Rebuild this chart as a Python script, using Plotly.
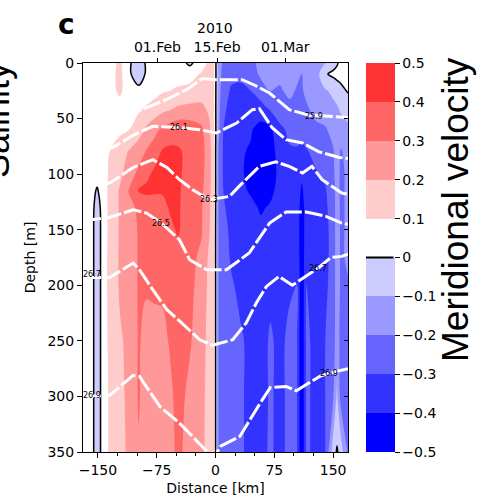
import plotly.graph_objects as go

# ---------------- data ----------------
distance_km = [-169, -158, -151, -144, -135, -122, -110, -98, -88, -78, -68, -58, -48, -33,
               -18, -8, -2, 4, 10, 20, 32, 45, 58, 70, 82, 95, 104, 110, 116, 128, 140,
               150, 155, 160, 169]
depth_m = [0, 10, 25, 40, 60, 80, 100, 115, 130, 150, 175, 200, 250, 300, 350]

v_d0 = [0.02, 0.02, 0.02, 0.03, 0.06, 0.12, 0.01, -0.04, 0.01, 0.05, 0.06, 0.06, 0.05, -0.02, 0.05, 0.12, 0.11, -0.15, -0.22, -0.25, -0.25, -0.22, -0.18, -0.15, -0.18, -0.15, -0.18, -0.20, -0.18, -0.15, -0.10, -0.04, -0.01, 0.03, 0.05]
v_d10 = [0.02, 0.02, 0.02, 0.03, 0.06, 0.13, 0.01, -0.04, 0.01, 0.06, 0.07, 0.07, 0.07, 0.06, 0.11, 0.14, 0.11, -0.15, -0.24, -0.28, -0.28, -0.25, -0.18, -0.16, -0.18, -0.16, -0.18, -0.20, -0.18, -0.15, -0.01, 0.02, 0.03, 0.04, 0.04]
v_d25 = [0.02, 0.02, 0.02, 0.03, 0.06, 0.12, 0.04, 0.02, 0.04, 0.07, 0.09, 0.10, 0.11, 0.13, 0.15, 0.15, 0.11, -0.16, -0.26, -0.31, -0.32, -0.30, -0.25, -0.20, -0.21, -0.18, -0.21, -0.21, -0.18, -0.15, -0.11, -0.08, -0.05, -0.03, 0.01]
v_d40 = [0.02, 0.02, 0.02, 0.03, 0.05, 0.06, 0.06, 0.08, 0.11, 0.13, 0.16, 0.18, 0.21, 0.22, 0.22, 0.18, 0.11, -0.17, -0.28, -0.33, -0.35, -0.35, -0.33, -0.28, -0.25, -0.22, -0.22, -0.22, -0.21, -0.17, -0.15, -0.12, -0.11, -0.08, -0.06]
v_d60 = [0.02, 0.02, 0.02, 0.03, 0.05, 0.08, 0.10, 0.16, 0.22, 0.27, 0.32, 0.35, 0.37, 0.36, 0.32, 0.22, 0.12, -0.18, -0.30, -0.36, -0.38, -0.39, -0.44, -0.42, -0.32, -0.28, -0.27, -0.27, -0.25, -0.22, -0.21, -0.17, -0.14, -0.15, -0.12]
v_d80 = [0.02, 0.02, 0.02, 0.04, 0.10, 0.15, 0.21, 0.25, 0.31, 0.35, 0.41, 0.42, 0.41, 0.38, 0.34, 0.24, 0.12, -0.21, -0.31, -0.37, -0.39, -0.41, -0.47, -0.45, -0.35, -0.31, -0.31, -0.32, -0.31, -0.27, -0.25, -0.21, -0.15, -0.21, -0.16]
v_d100 = [0.02, 0.03, 0.03, 0.04, 0.12, 0.18, 0.25, 0.33, 0.38, 0.42, 0.42, 0.41, 0.41, 0.38, 0.33, 0.24, 0.12, -0.21, -0.31, -0.36, -0.39, -0.42, -0.47, -0.45, -0.37, -0.34, -0.33, -0.38, -0.33, -0.31, -0.28, -0.22, -0.16, -0.22, -0.18]
v_d115 = [0.02, 0.03, -0.01, 0.04, 0.13, 0.21, 0.31, 0.41, 0.42, 0.41, 0.41, 0.42, 0.41, 0.37, 0.32, 0.23, 0.12, -0.21, -0.30, -0.35, -0.38, -0.41, -0.45, -0.42, -0.37, -0.35, -0.34, -0.42, -0.34, -0.32, -0.31, -0.24, -0.16, -0.22, -0.18]
v_d130 = [0.02, 0.03, -0.04, 0.03, 0.13, 0.21, 0.27, 0.32, 0.34, 0.36, 0.37, 0.41, 0.41, 0.36, 0.31, 0.22, 0.12, -0.21, -0.29, -0.33, -0.37, -0.38, -0.41, -0.39, -0.36, -0.35, -0.33, -0.46, -0.34, -0.34, -0.32, -0.25, -0.15, -0.22, -0.18]
v_d150 = [0.02, 0.03, -0.05, 0.03, 0.13, 0.21, 0.25, 0.31, 0.32, 0.33, 0.34, 0.38, 0.41, 0.35, 0.31, 0.21, 0.11, -0.21, -0.27, -0.32, -0.36, -0.37, -0.38, -0.37, -0.35, -0.34, -0.33, -0.48, -0.33, -0.36, -0.33, -0.26, -0.14, -0.22, -0.18]
v_d175 = [0.02, 0.03, -0.05, 0.03, 0.14, 0.21, 0.24, 0.31, 0.31, 0.32, 0.33, 0.36, 0.37, 0.33, 0.28, 0.18, 0.11, -0.21, -0.26, -0.31, -0.34, -0.36, -0.37, -0.35, -0.34, -0.33, -0.32, -0.48, -0.32, -0.36, -0.33, -0.26, -0.14, -0.22, -0.18]
v_d200 = [0.02, 0.03, -0.05, 0.03, 0.14, 0.21, 0.24, 0.31, 0.31, 0.31, 0.32, 0.34, 0.35, 0.32, 0.27, 0.17, 0.11, -0.21, -0.25, -0.29, -0.32, -0.34, -0.35, -0.32, -0.34, -0.31, -0.30, -0.48, -0.30, -0.35, -0.32, -0.26, -0.14, -0.22, -0.21]
v_d250 = [0.02, 0.03, -0.05, 0.03, 0.13, 0.19, 0.22, 0.31, 0.27, 0.28, 0.27, 0.31, 0.33, 0.31, 0.25, 0.16, 0.11, -0.21, -0.23, -0.26, -0.29, -0.32, -0.33, -0.29, -0.32, -0.28, -0.30, -0.49, -0.28, -0.33, -0.30, -0.25, -0.14, -0.24, -0.22]
v_d300 = [0.02, 0.03, -0.05, 0.03, 0.12, 0.18, 0.22, 0.31, 0.25, 0.27, 0.25, 0.28, 0.33, 0.28, 0.24, 0.15, 0.11, -0.21, -0.22, -0.26, -0.29, -0.32, -0.33, -0.29, -0.32, -0.28, -0.30, -0.49, -0.28, -0.33, -0.30, -0.21, -0.08, -0.24, -0.22]
v_d350 = [0.02, 0.03, -0.05, 0.03, 0.12, 0.17, 0.22, 0.29, 0.25, 0.26, 0.25, 0.27, 0.32, 0.27, 0.23, 0.15, 0.11, -0.21, -0.22, -0.26, -0.29, -0.32, -0.32, -0.29, -0.32, -0.28, -0.30, -0.49, -0.28, -0.33, -0.30, -0.05, 0.01, -0.05, -0.21]

velocity = [v_d0, v_d10, v_d25, v_d40, v_d60, v_d80, v_d100, v_d115, v_d130,
            v_d150, v_d175, v_d200, v_d250, v_d300, v_d350]

# isopycnals (depth of each density surface along the section)
iso259_x = [-169, -130, -94, -60, -37, -17, 1, 34, 50, 69, 94, 119, 145, 169]
iso259_d = [55, 52, 42, 32, 24, 14, 15, 15, 20, 27, 42, 47, 48, 49]
iso261_x = [-169, -131, -105, -80, -46, -20, 1, 27, 47, 56, 72, 90, 111, 132, 158, 169]
iso261_d = [80, 76, 65, 57, 58, 60, 63, 54, 42, 41, 58, 69, 72, 80, 85, 86]
iso263_x = [-169, -135, -105, -80, -62, -46, -29, -8, 18, 30, 56, 77, 94, 111, 123, 136, 161, 169]
iso263_d = [112, 108, 94, 87, 94, 105, 114, 123, 120, 111, 93, 89, 93, 99, 93, 105, 117, 118]
iso265_x = [-169, -135, -105, -88, -69, -46, -33, -11, 14, 43, 69, 90, 116, 141, 161, 169]
iso265_d = [142, 139, 132, 135, 144, 159, 177, 186, 186, 171, 144, 134, 134, 138, 144, 145]
iso267_x = [-169, -135, -105, -97, -80, -62, -46, -20, -4, 22, 39, 52, 65, 81, 98, 115, 132, 147, 161, 169]
iso267_d = [193, 193, 180, 186, 204, 222, 232, 249, 254, 249, 234, 216, 201, 192, 200, 192, 184, 175, 174, 172]
iso269_x = [-169, -135, -105, -97, -71, -46, -17, -2, 6, 31, 57, 70, 90, 103, 119, 133, 145, 161, 169]
iso269_d = [300, 299, 281, 282, 309, 324, 345, 356, 345, 336, 306, 292, 291, 295, 288, 282, 279, 276, 275]

iso_label_text = ["26.1", "26.3", "26.5", "26.7", "26.9", "25.9", "26.7", "26.9"]
iso_label_x = [-46, -8, -69, -158, -158, 125, 131, 145]
iso_label_d = [58, 123, 144, 190, 299, 48, 185, 279]

x_ticks = [-150, -75, 0, 75, 150]
x_minor = [-125, -100, -50, -25, 25, 50, 100, 125]
y_ticks = [0, 50, 100, 150, 200, 250, 300, 350]
date_tick_km = [-74, 2, 89]
date_tick_text = ["01.Feb", "15.Feb", "01.Mar"]
cbar_ticks = [-0.5, -0.4, -0.3, -0.2, -0.1, 0, 0.1, 0.2, 0.3, 0.4, 0.5]
cbar_text = ["\u22120.5", "\u22120.4", "\u22120.3", "\u22120.2", "\u22120.1", "0",
             "0.1", "0.2", "0.3", "0.4", "0.5"]

# bwr colours, one per 0.1 band (from -0.5 upward)
band_colors = ["rgb(0,0,255)", "rgb(51,51,255)", "rgb(102,102,255)", "rgb(153,153,255)",
               "rgb(204,204,255)", "rgb(255,255,255)", "rgb(255,204,204)",
               "rgb(255,153,153)", "rgb(255,102,102)", "rgb(255,51,51)"]
colorscale = []
for i, c in enumerate(band_colors):
    colorscale.append([i / 10, c])
    colorscale.append([(i + 1) / 10, c])

# ---------------- figure ----------------
W, H = 484, 500
L, R, T, B = 83, 136, 63, 48
pw, ph = W - L - R, H - T - B


def px_x(p):
    return (p - L) / pw


def px_y(p):
    return 1 - (p - T) / ph


TICKFONT = dict(family="DejaVu Sans", size=14, color="black")

fig = go.Figure()
fig.add_trace(go.Contour(
    x=distance_km, y=depth_m, z=velocity, zmin=-0.5, zmax=0.5,
    autocontour=False,
    contours=dict(start=-0.5, end=0.5, size=0.1, coloring="fill", showlines=False),
    colorscale=colorscale, line=dict(width=0), hoverinfo="skip",
    colorbar=dict(x=px_x(366), xanchor="left", y=0.5, yanchor="middle",
                  len=1, lenmode="fraction", thickness=29, thicknessmode="pixels",
                  xpad=0, ypad=0, outlinewidth=0,
                  tickvals=cbar_ticks, ticktext=cbar_text, ticks="outside",
                  ticklen=5, tickcolor="black", tickfont=TICKFONT),
))

for xs, ds in [(iso259_x, iso259_d), (iso261_x, iso261_d), (iso263_x, iso263_d),
               (iso265_x, iso265_d), (iso267_x, iso267_d), (iso269_x, iso269_d)]:
    fig.add_trace(go.Scatter(x=xs, y=ds, mode="lines", hoverinfo="skip", showlegend=False,
                             line=dict(color="white", width=3, dash="18px,3px")))

fig.add_trace(go.Contour(
    x=distance_km, y=depth_m, z=velocity, autocontour=False,
    contours=dict(start=0, end=0, size=0.1, coloring="none"),
    line=dict(color="black", width=1.5), showscale=False, hoverinfo="skip",
))

# empty helper traces so that the top (date) axis and right tick axis are drawn
fig.add_trace(go.Scatter(x=[], y=[], xaxis="x2", yaxis="y", mode="lines",
                         showlegend=False, hoverinfo="skip"))
fig.add_trace(go.Scatter(x=[], y=[], xaxis="x", yaxis="y2", mode="lines",
                         showlegend=False, hoverinfo="skip"))

annotations = []
for t, xv, dv in zip(iso_label_text, iso_label_x, iso_label_d):
    annotations.append(dict(x=xv, y=dv, xref="x", yref="y", text=t, showarrow=False,
                            xanchor="center", yanchor="middle",
                            font=dict(family="DejaVu Sans", size=8, color="black")))

annotations += [
    dict(x=px_x(66), y=px_y(24), xref="paper", yref="paper", text="<b>c</b>",
         xanchor="center", yanchor="middle",
         showarrow=False, font=dict(family="DejaVu Sans", size=28, color="black")),
    dict(x=px_x(215), y=px_y(28), xref="paper", yref="paper", text="2010",
         xanchor="center", yanchor="middle", showarrow=False, font=TICKFONT),
    dict(x=px_x(455), y=px_y(210), xref="paper", yref="paper", text="Meridional velocity",
         textangle=-90, showarrow=False, xanchor="center", yanchor="middle",
         font=dict(family="Liberation Sans", size=37, color="black")),
    dict(x=px_x(-4), y=px_y(120), xref="paper", yref="paper", text="Salinity",
         textangle=-90, showarrow=False, xanchor="center", yanchor="middle",
         font=dict(family="Liberation Sans", size=36, color="black")),
    # zero-contour mark on the colour bar
    dict(x=px_x(366), y=0.5, xref="paper", yref="paper", text="", showarrow=True,
         ax=29, ay=0, axref="pixel", ayref="pixel", arrowhead=0, arrowwidth=2,
         arrowcolor="black", standoff=0, startstandoff=0),
]

fig.update_layout(
    width=W, height=H, margin=dict(l=L, r=R, t=T, b=B),
    paper_bgcolor="white", plot_bgcolor="white", showlegend=False,
    font=TICKFONT,
    xaxis=dict(range=[-169, 169], tickvals=x_ticks, ticks="outside", ticklen=5,
               tickcolor="black", showline=True, linecolor="black", linewidth=1,
               mirror=True, showgrid=False, zeroline=False, tickfont=TICKFONT,
               automargin=False,
               minor=dict(tickvals=x_minor, ticks="outside", ticklen=3, tickcolor="black"),
               title=dict(text="Distance [km]", font=TICKFONT, standoff=6)),
    xaxis2=dict(range=[-169, 169], overlaying="x", side="top", anchor="y",
                tickvals=date_tick_km, ticktext=date_tick_text, ticks="outside",
                ticklen=4, tickcolor="black", showgrid=False, zeroline=False,
                showline=False, tickfont=TICKFONT, automargin=False),
    yaxis=dict(range=[350, 0], tickvals=y_ticks, ticks="outside", ticklen=5,
               tickcolor="black", showline=True, linecolor="black", linewidth=1,
               mirror=True, showgrid=False, zeroline=False, tickfont=TICKFONT,
               automargin=False,
               title=dict(text="Depth [m]", font=TICKFONT, standoff=8)),
    yaxis2=dict(range=[350, 0], overlaying="y", side="right", anchor="x",
                tickvals=y_ticks, ticks="inside", ticklen=4, tickcolor="black",
                showticklabels=False, showgrid=False, zeroline=False, showline=False,
                automargin=False),
    annotations=annotations,
)

fig.write_html("out.html")
